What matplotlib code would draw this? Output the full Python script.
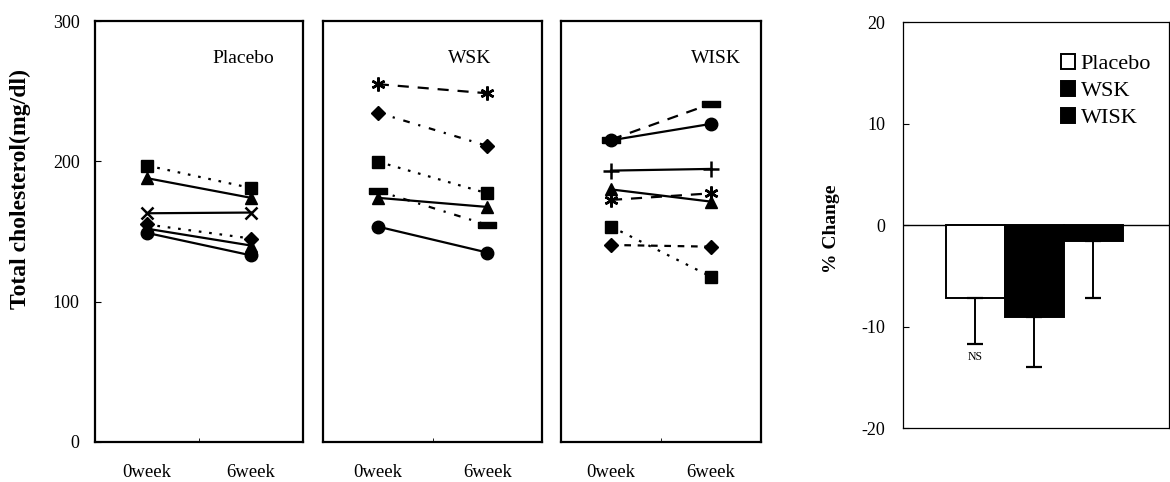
import matplotlib.pyplot as plt
import numpy as np

plt.rcParams["font.family"] = ["Liberation Serif", "DejaVu Serif"]
plt.rcParams["axes.unicode_minus"] = False

# Individual total cholesterol (mg/dl) at 0 and 6 weeks, one entry per subject
weeks = ["0week", "6week"]

placebo_0wk = [197, 188, 163, 155, 152, 149]
placebo_6wk = [181, 174, 163.5, 145, 140, 133]

wsk_0wk = [255, 234.7, 199.8, 179, 174, 153.5]
wsk_6wk = [248.5, 211, 177.2, 154.7, 167.5, 135]

wisk_0wk = [215.5, 215, 193.4, 180, 172.5, 153.5, 140.4]
wisk_6wk = [241, 226.7, 194.6, 171.3, 177.2, 117.8, 139.2]

# Mean % change and lower SD
groups = ["Placebo", "WSK", "WISK"]
pct_change = [-7.2, -9.1, -1.55]
pct_sd = [4.5, 4.9, 5.65]

# marker / line style per subject
BAR = [(-1, -0.35), (1, -0.35), (1, 0.35), (-1, 0.35), (-1, -0.35)]
AST = (6, 2, 0)
DOT = (0, (1.2, 3.5))
DASHDOT = (0, (3, 4, 1, 4))
DASH = (0, (5, 4))
SOLID = "-"

placebo_style = [("s", DOT), ("^", SOLID), ("x", SOLID), ("D", DOT), ("^", SOLID), ("o", SOLID)]
wsk_style = [(AST, DASH), ("D", DASHDOT), ("s", DOT), (BAR, DASHDOT), ("^", SOLID), ("o", SOLID)]
wisk_style = [(BAR, DASH), ("o", SOLID), ("+", SOLID), ("^", SOLID), (AST, DASH), ("s", DOT), ("D", (0, (3, 3)))]

msize = {"s": 8.5, "^": 9, "x": 9, "D": 7, "o": 9, "+": 11}


def marker_size(mk):
    if isinstance(mk, str):
        return msize[mk]
    return 13 if mk is BAR else 10


fig = plt.figure(figsize=(11.7, 4.82), dpi=100)
ax1 = fig.add_axes([0.0812, 0.083, 0.1778, 0.8734])
ax2 = fig.add_axes([0.2761, 0.083, 0.1872, 0.8734])
ax3 = fig.add_axes([0.4795, 0.083, 0.1709, 0.8734])
ax4 = fig.add_axes([0.7718, 0.112, 0.2274, 0.8423])

panels = [
    (ax1, placebo_0wk, placebo_6wk, placebo_style, "Placebo", 0.86),
    (ax2, wsk_0wk, wsk_6wk, wsk_style, "WSK", 0.77),
    (ax3, wisk_0wk, wisk_6wk, wisk_style, "WISK", 0.90),
]

x = np.arange(len(weeks))
for ax, v0, v6, style, title, tx in panels:
    for a, b, (mk, ls) in zip(v0, v6, style):
        thin = isinstance(mk, str) and mk in ("x", "+") or mk is AST
        ax.plot(x, [a, b], color="black", linestyle=ls, linewidth=1.6,
                marker=mk, markersize=marker_size(mk), markeredgewidth=1.8 if thin else 1,
                markerfacecolor="black", markeredgecolor="black")
    ax.set_xlim(-0.5, 1.5)
    ax.set_ylim(0, 300)
    ax.set_xticks(x)
    ax.set_xticklabels(weeks, fontsize=13.5)
    ax.set_xticks([0.5], minor=True)
    ax.tick_params(axis="x", which="major", length=0, pad=16)
    ax.tick_params(axis="x", which="minor", direction="in", length=3)
    ax.text(tx, 0.91, title, transform=ax.transAxes, ha="right", va="center", fontsize=14)
    for s in ax.spines.values():
        s.set_linewidth(1.6)

ax1.set_yticks([0, 100, 200, 300])
ax1.tick_params(axis="y", direction="in", length=4, pad=11, labelsize=13)
ax1.set_ylabel("Total cholesterol(mg/dl)", fontsize=17, fontweight="bold")
ax1.yaxis.set_label_coords(-0.31, 0.6)
for ax in (ax2, ax3):
    ax.set_yticks([])

# % change bars
pos = np.arange(len(groups))
fills = ["white", "black", "black"]
ax4.axhline(0, color="black", linewidth=1, zorder=1)
ax4.bar(pos, pct_change, width=1.0, color=fills, edgecolor="black", linewidth=1.4,
        label=groups, zorder=2)
ax4.errorbar(pos, pct_change, yerr=[pct_sd, [0] * len(pct_sd)], fmt="none",
             ecolor="black", elinewidth=1.4, capsize=6, capthick=1.6, zorder=3)
ax4.text(pos[0], pct_change[0] - pct_sd[0] - 1.3, "NS", ha="center", va="center", fontsize=8.5)
ax4.set_xlim(-1.22, 3.28)
ax4.set_ylim(-20, 20)
ax4.set_xticks([])
ax4.set_yticks([-20, -10, 0, 10, 20])
ax4.tick_params(axis="y", direction="in", length=4, pad=13, labelsize=13)
ax4.set_ylabel("% Change", fontsize=14, fontweight="bold")
ax4.yaxis.set_label_coords(-0.237, 0.49)
for s in ax4.spines.values():
    s.set_linewidth(0.9)
ax4.legend(loc="upper right", bbox_to_anchor=(0.932, 0.922), frameon=False, fontsize=16,
           handlelength=0.65, handleheight=0.65, handletextpad=0.25, labelspacing=0.31,
           borderaxespad=0, borderpad=0)

fig.savefig("out.png", dpi=100, facecolor="white")
